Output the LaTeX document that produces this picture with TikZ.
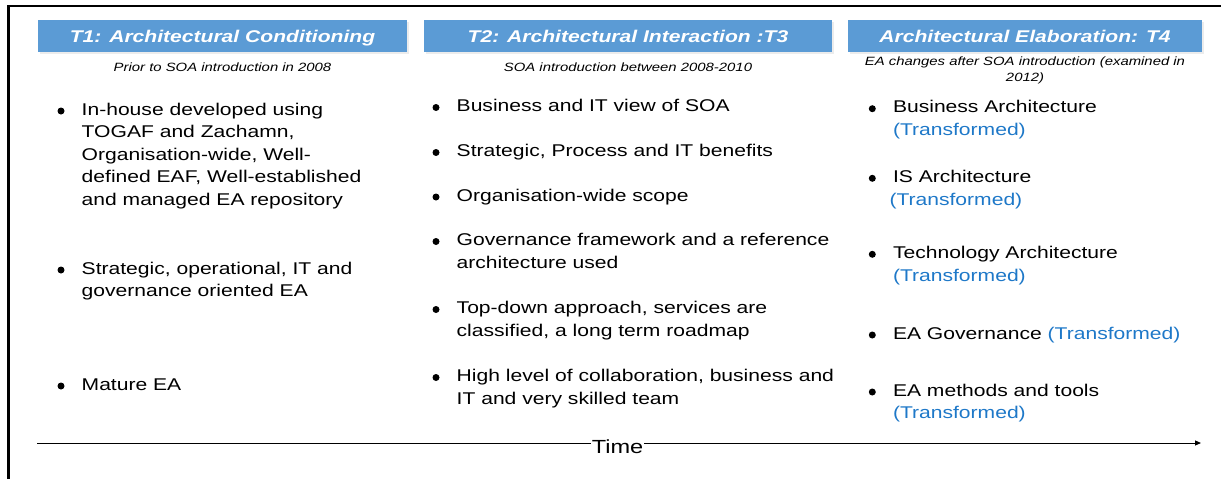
\documentclass[tikz,border=0pt]{standalone}
\usepackage{fontspec}
\setmainfont[FakeStretch=1.24]{Liberation Sans}
\usetikzlibrary{arrows.meta,shadows}
\definecolor{headblue}{RGB}{91,155,213}
\definecolor{markblue}{RGB}{30,120,200}

\begin{document}
\begin{tikzpicture}[x=1pt, y=-1pt]
  \tikzset{HeadStyle/.style = {
  shape = rectangle,
  fill = headblue,
  text = white,
  font = \fontsize{17}{20}\selectfont\bfseries\itshape,
  inner sep = 0pt,
  minimum height = 32pt,
  text height = 12pt,
  text depth = 0pt,
  drop shadow = {shadow xshift=2pt, shadow yshift=-2pt, opacity=0.15}},
  SubStyle/.style = {
  anchor = north,
  align = center,
  inner sep = 0pt,
  font = \fontsize{12}{16.5}\selectfont\itshape},
  ItemStyle/.style = {
  anchor = north west,
  align = left,
  inner sep = 0pt,
  font = \fontsize{17}{22.5}\selectfont},
  BulletStyle/.style = {
  shape = circle,
  fill = black,
  inner sep = 0pt,
  minimum size = 7pt},
  TimeStyle/.style = {
  anchor = base,
  fill = white,
  inner xsep = 1pt,
  inner ysep = 0pt,
  font = \fontsize{19}{22}\selectfont},
  TimeArrow/.style = {
  -{Triangle[length=6pt, width=5pt]},
  line width = 1pt}}
  \useasboundingbox (0,0) rectangle (1221,479);
  \draw[line width=2.5pt] (8.5,479) -- (8.5,6) -- (1221,6);
  \node[HeadStyle, minimum width=369pt] (h1) at (222.5,36) {T1: Architectural Conditioning};
  \node[HeadStyle, minimum width=408pt] (h2) at (628,36) {T2: Architectural Interaction :T3};
  \node[HeadStyle, minimum width=354pt] (h3) at (1025,36) {Architectural Elaboration: T4};
  \node[SubStyle] (s1) at (222.5,59.95) {\strut Prior to SOA introduction in 2008};
  \node[SubStyle] (s2) at (628,59.95) {\strut SOA introduction between 2008-2010};
  \node[SubStyle] (s3) at (1025,53.45) {\strut EA changes after SOA introduction (examined in\\2012)};
  \node[ItemStyle] (a1) at (81.5,99.25) {\strut In-house developed using\\TOGAF and Zachamn,\\Organisation-wide, Well-\\defined EAF, Well-established\\and managed EA repository};
  \node[ItemStyle] (a2) at (81.5,258.25) {\strut Strategic, operational, IT and\\governance oriented EA};
  \node[ItemStyle] (a3) at (81.5,374.25) {\strut Mature EA};
  \node[ItemStyle] (b1) at (456.5,95.75) {\strut Business and IT view of SOA};
  \node[ItemStyle] (b2) at (456.5,140.75) {\strut Strategic, Process and IT benefits};
  \node[ItemStyle] (b3) at (456.5,185.25) {\strut Organisation-wide scope};
  \node[ItemStyle] (b4) at (456.5,229.75) {\strut Governance framework and a reference\\architecture used};
  \node[ItemStyle] (b5) at (456.5,297.75) {\strut Top-down approach, services are\\classified, a long term roadmap};
  \node[ItemStyle] (b6) at (456.5,365.75) {\strut High level of collaboration, business and\\IT and very skilled team};
  \node[ItemStyle] (c1) at (892.8,96.95) {\strut Business Architecture\\\textcolor{markblue}{(Transformed)}};
  \node[ItemStyle] (c2) at (892.8,166.55) {\strut IS Architecture\\\hspace*{-3.5pt}\textcolor{markblue}{(Transformed)}};
  \node[ItemStyle] (c3) at (892.8,242.55) {\strut Technology Architecture\\\textcolor{markblue}{(Transformed)}};
  \node[ItemStyle] (c4) at (892.8,323.25) {\strut EA Governance \textcolor{markblue}{(Transformed)}};
  \node[ItemStyle] (c5) at (892.8,380.25) {\strut EA methods and tools\\\textcolor{markblue}{(Transformed)}};
  \foreach \i in {a1,a2,a3,b1,b2,b3,b4,b5,b6,c1,c2,c3,c4,c5}
    \node[BulletStyle] (dot-\i) at ([shift={(-20.5,11.75)}]\i.north west) {};
  \coordinate (tstart) at (37,443);
  \coordinate (tend) at (1201,443);
  \draw[TimeArrow] (tstart) -- (tend);
  \node[TimeStyle] (time) at (617.5,453) {Time};
\end{tikzpicture}
\end{document}
